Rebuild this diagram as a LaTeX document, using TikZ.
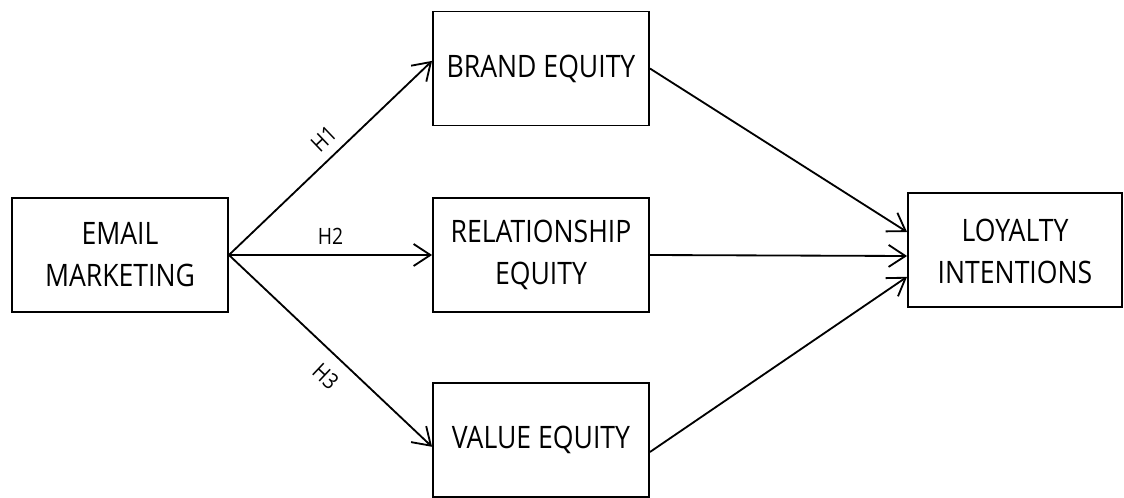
\documentclass[tikz,border=0pt]{standalone}
\usepackage{fontspec}
\setmainfont{Open Sans}[FakeStretch=0.86]
\usetikzlibrary{arrows.meta}

\newcommand{\hlabel}[1]{{\fontsize{16}{18}\selectfont #1}}

\begin{document}
\begin{tikzpicture}[x=0.025cm, y=-0.025cm,
	box/.style={shape=rectangle, draw=black, line width=1.3pt, inner sep=0pt,
		minimum width=5.4cm, minimum height=2.85cm, align=center,
		font=\fontsize{22}{29.8}\selectfont},
	link/.style={line width=1.3pt, -{Straight Barb[length=0.42cm, width=0.55cm, line width=1.3pt]}},
	hyp/.style={inner sep=7pt}]
	\useasboundingbox (0,0) rectangle (1124,498);

	\node[box] (email)   at (120, 255)  {EMAIL\\MARKETING};
	\node[box] (brand)   at (541, 68.5) {BRAND EQUITY};
	\node[box] (rel)     at (541, 255)  {RELATIONSHIP\\EQUITY};
	\node[box] (value)   at (541, 440)  {VALUE EQUITY};
	\node[box, minimum width=5.35cm] (loyal) at (1015, 250) {\\[-0.42cm]LOYALTY\\INTENTIONS};

	\draw[link] (email.east) -- node[hyp, pos=0.53, sloped, above]{\hlabel{H1}} ([yshift=0.19cm]brand.west);
	\draw[link] (email.east) -- node[hyp, pos=0.5, above]{\hlabel{H2}} (rel.west);
	\draw[link] (email.east) -- node[hyp, pos=0.55, sloped, below, inner sep=9pt]{\hlabel{H3}} ([yshift=-0.17cm]value.west);
	\draw[link] (brand.east) -- ([yshift=0.45cm]loyal.west);
	\draw[link] (rel.east) -- ([yshift=-0.15cm]loyal.west);
	\draw[link] ([yshift=-0.3cm]value.east) -- ([yshift=-0.67cm]loyal.west);
\end{tikzpicture}
\end{document}
